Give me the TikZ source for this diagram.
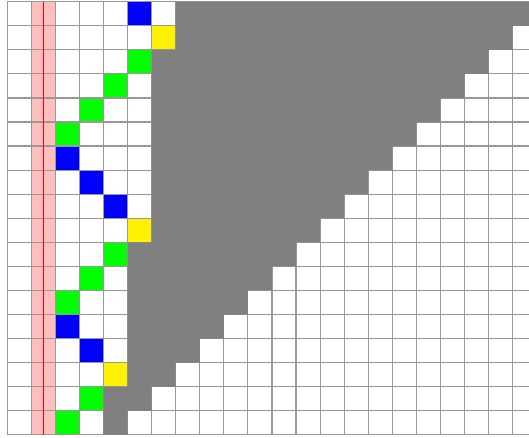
\documentclass[tikz,border=0pt]{standalone}
\usepackage{tikz}
\tikzstyle{gridline}  = [draw=black!40, line width=0.7pt]
\tikzstyle{markline}  = [draw=red, line width=0.8pt]
\tikzstyle{pinkcol}   = [fill=red!25]
\tikzstyle{bluecell}  = [fill=blue]
\tikzstyle{greencell} = [fill=green]
\tikzstyle{yellowcell}= [fill=yellow]
\tikzstyle{graycell}  = [fill=gray]

\begin{document}
\begin{tikzpicture}[x=0.5cm, y=0.5cm]
  \useasboundingbox (-0.3,-0.1) rectangle (21.68,18.07);
  \clip (-0.3,-0.1) rectangle (21.68,18.07);
  \fill[white] (-0.3,-0.1) rectangle (21.68,18.07);

  % column, cells (column/row, row 0 on top)
  \fill[pinkcol] (1,0) rectangle (2,18);
  \foreach \c/\r in {5/0, 2/6, 3/7, 4/8, 2/13, 3/14}
    \fill[bluecell] (\c,17-\r) rectangle (\c+1,18-\r);
  \foreach \c/\r in {5/2, 4/3, 3/4, 2/5, 4/10, 3/11, 2/12, 3/16, 2/17}
    \fill[greencell] (\c,17-\r) rectangle (\c+1,18-\r);
  \foreach \c/\r in {6/1, 5/9, 4/15}
    \fill[yellowcell] (\c,17-\r) rectangle (\c+1,18-\r);

  \draw[gridline, step=0.5cm] (0,0) grid (22,18);
  \draw[markline] (1.5,0) -- (1.5,18);

  % gray block
  \fill[graycell] (4,0) -- (4,2) -- (5,2) -- (5,8) -- (6,8) -- (6,16) -- (7,16) -- (7,18) -- (22,18)
    \foreach \r in {1,...,17} { -- ({23-\r},18-\r) -- ({22-\r},18-\r) } -- (5,0) -- cycle;
\end{tikzpicture}
\end{document}
